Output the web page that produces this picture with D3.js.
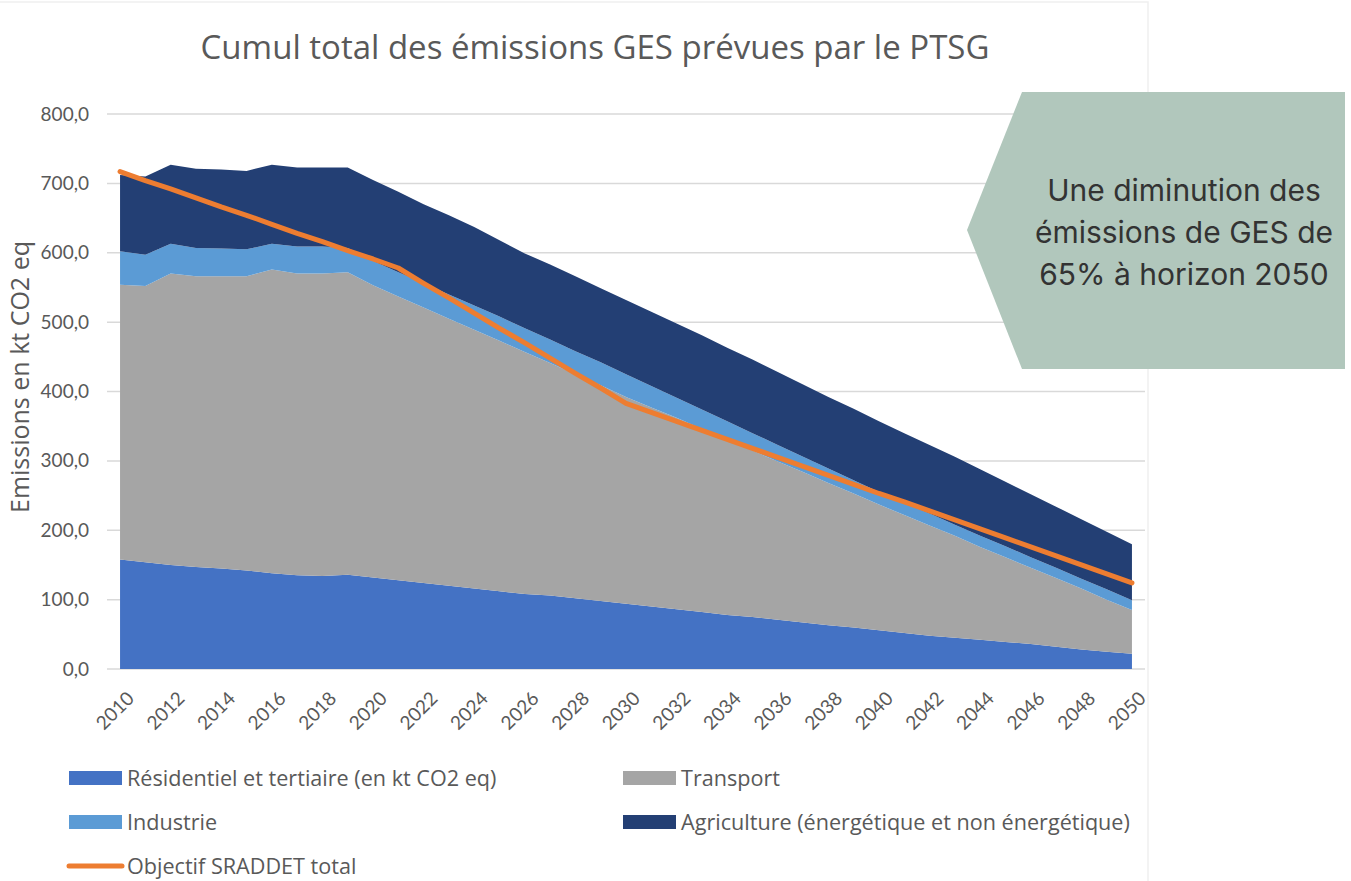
<!DOCTYPE html>
<html>
<head>
<meta charset="utf-8">
<script src="https://cdn.jsdelivr.net/npm/d3@7"></script>
<style>
  body { margin: 0; background: #fff; }
  svg { display: block; }
</style>
</head>
<body>
<div id="chart"></div>
<script>
// categories
var years = [2010,2011,2012,2013,2014,2015,2016,2017,2018,2019,2020,
             2021,2022,2023,2024,2025,2026,2027,2028,2029,2030,
             2031,2032,2033,2034,2035,2036,2037,2038,2039,2040,
             2041,2042,2043,2044,2045,2046,2047,2048,2049,2050];

// kt CO2 eq
var residentiel = [158,154,150,147,145,142,138,135,134,136,132,
                   128,124,120,116,112,108,106,102,98,94,
                   90,86,82,78,75,71,67,63,60,56,
                   52,48,45,42,39,36,32,28,25,22];
var transport = [396,398,420,419,421,424,438,435,436,436,421,
                 409,397,385,373,361,349,335,323,311,298,
                 287,276,264,253,240,228,217,205,193,181,
                 170,159,147,134,122,110,99,88,75,63];
var industrie = [48,45,43,41,40,39,37,39,39,35,35,
                 35,35,35,35,35,34,34,33,33,33,
                 31,29,28,26,25,24,22,21,19,18,
                 17,17,16,16,16,15,15,14,15,14];
var agriculture = [110,113,114,114,114,113,114,114,114,116,117,
                   116,114,114,113,110,108,108,108,107,107,
                   107,107,107,106,106,105,104,103,103,102,
                   101,99,98,96,93,91,88,86,83,81];
var objectif = [717,704,692,679,666,654,641,628,616,603,591,
                578,556,535,513,491,470,448,426,405,383,
                370,357,344,331,318,305,292,279,266,253,
                241,228,215,202,189,176,163,150,137,124];

var yTicks = [0,100,200,300,400,500,600,700,800];
var xTicks = [2010,2012,2014,2016,2018,2020,2022,2024,2026,2028,2030,
              2032,2034,2036,2038,2040,2042,2044,2046,2048,2050];

var seriesKeys = ['res','trans','ind','agri'];
var seriesNames = {
    res: 'Résidentiel et tertiaire (en kt CO2 eq)',
    trans: 'Transport',
    ind: 'Industrie',
    agri: 'Agriculture (énergétique et non énergétique)'
};
var colors = {res:'#4472C4', trans:'#A5A5A5', ind:'#5B9BD5', agri:'#233F74'};
var orange = '#ED7D31';
var grey = '#595959';
var tickFont = 'Lato, "Open Sans", sans-serif';
var textFont = '"Open Sans", "Noto Sans", sans-serif';

var width = 1351, height = 881;

var svg = d3.select('#chart').append('svg')
    .attr('width', width)
    .attr('height', height);

// faint frame of the original screenshot
svg.append('rect')
    .attr('x', -1).attr('y', 2)
    .attr('width', 1149).attr('height', 890)
    .attr('fill', 'none')
    .attr('stroke', '#efefef')
    .attr('stroke-width', 1.5);

var x = d3.scalePoint()
    .domain(years)
    .range([107.4, 1144.6])
    .padding(0.5);

var y = d3.scaleLinear()
    .domain([0, 800])
    .range([669, 114]);

// table for the stack
var table = years.map(function (yr, i) {
    return {year: yr, res: residentiel[i], trans: transport[i], ind: industrie[i], agri: agriculture[i]};
});
var stacked = d3.stack().keys(seriesKeys)(table);

// gridlines
svg.append('g')
    .selectAll('line')
    .data(yTicks)
    .enter().append('line')
    .attr('x1', 107).attr('x2', 1145)
    .attr('y1', function (d) { return y(d); })
    .attr('y2', function (d) { return y(d); })
    .attr('stroke', '#d9d9d9')
    .attr('stroke-width', 1.5);

var area = d3.area()
    .x(function (d) { return x(d.data.year); })
    .y0(function (d) { return y(d[0]); })
    .y1(function (d) { return y(d[1]); });

svg.append('g')
    .selectAll('path')
    .data(stacked)
    .enter().append('path')
    .attr('d', area)
    .attr('fill', function (d) { return colors[d.key]; });

var line = d3.line()
    .x(function (d, i) { return x(years[i]); })
    .y(function (d) { return y(d); });

svg.append('path')
    .datum(objectif)
    .attr('d', line)
    .attr('fill', 'none')
    .attr('stroke', orange)
    .attr('stroke-width', 5)
    .attr('stroke-linejoin', 'round')
    .attr('stroke-linecap', 'round');

// y axis labels
var fr = d3.formatLocale({decimal: ',', thousands: ' ', grouping: [3], currency: ['', '€']});
var yAxis = d3.axisLeft(y).tickValues(yTicks).tickFormat(fr.format('.1f')).tickSize(0).tickPadding(0);
var gy = svg.append('g')
    .attr('transform', 'translate(89,0)')
    .call(yAxis);
gy.select('.domain').remove();
gy.selectAll('text')
    .attr('font-family', tickFont)
    .attr('font-size', 19)
    .attr('fill', grey);

// x axis labels, rotated
var xAxis = d3.axisBottom(x).tickValues(xTicks).tickSize(0).tickPadding(0);
var gx = svg.append('g')
    .attr('transform', 'translate(0,669)')
    .call(xAxis);
gx.select('.domain').remove();
gx.selectAll('text')
    .attr('font-family', tickFont)
    .attr('font-size', 19)
    .attr('fill', grey)
    .attr('text-anchor', 'end')
    .attr('y', 0)
    .attr('dy', '0.35em')
    .attr('transform', 'translate(10,26) rotate(-45)');

// axis title
svg.append('text')
    .attr('transform', 'translate(29,377) rotate(-90)')
    .attr('text-anchor', 'middle')
    .attr('font-family', textFont)
    .attr('font-size', 25)
    .attr('fill', grey)
    .text('Emissions en kt CO2 eq');

// title
svg.append('text')
    .attr('x', 595)
    .attr('y', 59)
    .attr('text-anchor', 'middle')
    .attr('font-family', textFont)
    .attr('font-size', 33)
    .attr('fill', grey)
    .text('Cumul total des émissions GES prévues par le PTSG');

// legend
var legendItems = [
    {key: 'res', x: 69, y: 778},
    {key: 'trans', x: 623, y: 778},
    {key: 'ind', x: 69, y: 822},
    {key: 'agri', x: 623, y: 822}
];
var lg = svg.append('g');
legendItems.forEach(function (it) {
    lg.append('rect')
        .attr('x', it.x).attr('y', it.y - 7)
        .attr('width', 53).attr('height', 14)
        .attr('fill', colors[it.key]);
    lg.append('text')
        .attr('x', it.x + 58).attr('y', it.y)
        .attr('dy', '0.35em')
        .attr('font-family', textFont)
        .attr('font-size', 21.6)
        .attr('fill', grey)
        .text(seriesNames[it.key]);
});
lg.append('line')
    .attr('x1', 69).attr('x2', 122)
    .attr('y1', 866).attr('y2', 866)
    .attr('stroke', orange)
    .attr('stroke-width', 5)
    .attr('stroke-linecap', 'round');
lg.append('text')
    .attr('x', 127).attr('y', 866)
    .attr('dy', '0.35em')
    .attr('font-family', textFont)
    .attr('font-size', 21.6)
    .attr('fill', grey)
    .text('Objectif SRADDET total');

// callout
var callout = svg.append('g');
callout.append('polygon')
    .attr('points', [[1022,92],[1345,92],[1345,369],[1022,369],[967,230]].join(' '))
    .attr('fill', '#B1C7BC');
var calloutLines = ['Une diminution des', 'émissions de GES de', '65% à horizon 2050'];
callout.selectAll('text.call')
    .data(calloutLines)
    .enter().append('text')
    .attr('class', 'call')
    .attr('x', 1184)
    .attr('y', function (d, i) { return 201 + i * 42; })
    .attr('text-anchor', 'middle')
    .attr('font-family', 'Inter, Roboto, sans-serif')
    .attr('font-size', 30)
    .attr('fill', '#333333')
    .text(function (d) { return d; });
</script>
</body>
</html>
